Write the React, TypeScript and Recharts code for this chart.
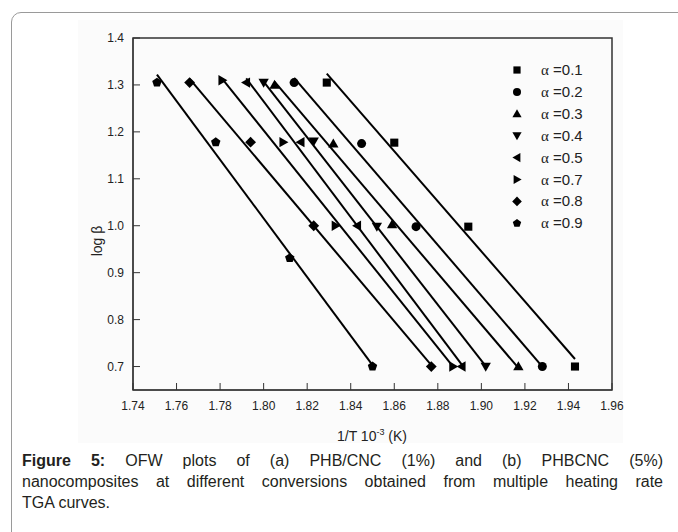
import { ScatterChart, Scatter, XAxis, YAxis, ReferenceLine, ReferenceArea } from 'recharts';

// 1/T (10^-3 K^-1) tick labels and log(beta) tick labels
const X_TICKS = [1.74, 1.76, 1.78, 1.8, 1.82, 1.84, 1.86, 1.88, 1.9, 1.92, 1.94, 1.96];
const Y_TICKS = [0.7, 0.8, 0.9, 1.0, 1.1, 1.2, 1.3, 1.4];

const SERIES_LABELS = ['0.1', '0.2', '0.3', '0.4', '0.5', '0.7', '0.8', '0.9'];
const SERIES_MARKERS = ['square', 'circle', 'up', 'down', 'left', 'right', 'diamond', 'pentagon'];

// measured points, one row per conversion
const INV_T = [
  [1.829, 1.86, 1.894, 1.943],
  [1.814, 1.845, 1.87, 1.928],
  [1.805, 1.832, 1.859, 1.917],
  [1.8, 1.823, 1.852, 1.902],
  [1.792, 1.817, 1.843, 1.891],
  [1.781, 1.809, 1.833, 1.887],
  [1.766, 1.794, 1.823, 1.877],
  [1.751, 1.778, 1.812, 1.85],
];
const LOG_BETA = [
  [1.305, 1.177, 0.998, 0.7],
  [1.305, 1.175, 0.998, 0.7],
  [1.3, 1.175, 1.003, 0.7],
  [1.305, 1.18, 0.998, 0.7],
  [1.305, 1.178, 1.0, 0.7],
  [1.31, 1.178, 1.0, 0.7],
  [1.305, 1.178, 1.0, 0.7],
  [1.305, 1.178, 0.931, 0.7],
];

// fitted lines, start and end
const FIT_START = [
  [1.829, 1.324], [1.814, 1.315], [1.805, 1.307], [1.8, 1.307],
  [1.792, 1.314], [1.781, 1.313], [1.766, 1.313], [1.751, 1.322],
];
const FIT_END = [
  [1.943, 0.716], [1.928, 0.7], [1.917, 0.697], [1.902, 0.701],
  [1.891, 0.704], [1.887, 0.7], [1.877, 0.703], [1.85, 0.703],
];

const SANS = '"Liberation Sans", Arial, sans-serif';
const SERIF = '"Liberation Serif", "Times New Roman", serif';

const Marker = ({ cx, cy, kind, r }: { cx: number; cy: number; kind: string; r: number }) => {
  const poly = (pts: number[][]) => (
    <polygon points={pts.map(p => `${cx + p[0] * r},${cy + p[1] * r}`).join(' ')} fill="#000" />
  );
  switch (kind) {
    case 'square':
      return <rect x={cx - r * 0.9} y={cy - r * 0.9} width={r * 1.8} height={r * 1.8} fill="#000" />;
    case 'circle':
      return <circle cx={cx} cy={cy} r={r} fill="#000" />;
    case 'up':
      return poly([[0, -1.15], [1.15, 0.85], [-1.15, 0.85]]);
    case 'down':
      return poly([[0, 1.15], [1.15, -0.85], [-1.15, -0.85]]);
    case 'left':
      return poly([[-1.15, 0], [0.85, -1.15], [0.85, 1.15]]);
    case 'right':
      return poly([[1.15, 0], [-0.85, -1.15], [-0.85, 1.15]]);
    case 'diamond':
      return poly([[0, -1.2], [1.2, 0], [0, 1.2], [-1.2, 0]]);
    default: {
      const pts = [0, 1, 2, 3, 4].map(i => {
        const a = -Math.PI / 2 + (i * 2 * Math.PI) / 5;
        return [Math.cos(a) * 1.1, Math.sin(a) * 1.1];
      });
      return poly(pts);
    }
  }
};

const App = () => {
  const series = INV_T.map((xs, i) => xs.map((x, j) => ({ x, y: LOG_BETA[i][j] })));

  return (
    <div style={{ position: 'absolute', left: 0, top: 0, width: 678, height: 532, background: '#fff', overflow: 'hidden' }}>
      <div style={{ position: 'absolute', left: 11, top: 12, width: 720, height: 600, border: '1.5px solid #9a9a9a', borderRadius: 10 }} />
      <div style={{ position: 'absolute', left: 78, top: 20, width: 545, height: 423, background: '#fbfbfb' }} />
      <div style={{ position: 'absolute', left: 0, top: 0 }}>
        <ScatterChart width={678} height={450} margin={{ top: 38, right: 66, bottom: 30, left: 93 }}>
          <XAxis
            type="number"
            dataKey="x"
            domain={[1.74, 1.96]}
            ticks={X_TICKS}
            tickFormatter={(v: number) => v.toFixed(2)}
            allowDataOverflow
            height={30}
            tickSize={-7}
            tickMargin={18}
            stroke="#333"
            tick={{ fill: '#222', fontSize: 12, fontFamily: SANS }}
          />
          <YAxis
            type="number"
            dataKey="y"
            domain={[0.65, 1.4]}
            ticks={Y_TICKS}
            tickFormatter={(v: number) => v.toFixed(1)}
            allowDataOverflow
            width={40}
            tickSize={-7}
            tickMargin={16}
            stroke="#333"
            tick={{ fill: '#222', fontSize: 12, fontFamily: SANS }}
          />
          <ReferenceArea x1={1.74} x2={1.96} y1={0.65} y2={1.4} fill="none" stroke="#333" strokeWidth={1.5} />
          {FIT_START.map((s, i) => (
            <ReferenceLine
              key={'fit' + i}
              segment={[{ x: s[0], y: s[1] }, { x: FIT_END[i][0], y: FIT_END[i][1] }]}
              stroke="#000"
              strokeWidth={2}
              ifOverflow="visible"
            />
          ))}
          {series.map((d, i) => (
            <Scatter
              key={SERIES_LABELS[i]}
              name={SERIES_LABELS[i]}
              data={d}
              isAnimationActive={false}
              shape={(p: any) => <Marker cx={p.cx} cy={p.cy} kind={SERIES_MARKERS[i]} r={4.5} />}
            />
          ))}
        </ScatterChart>
      </div>
      <svg width={678} height={450} style={{ position: 'absolute', left: 0, top: 0, pointerEvents: 'none' }}>
        <text x={102} y={241} transform="rotate(-90 102 241)" textAnchor="middle" fontSize={14} fontFamily={SANS} fill="#222">
          log β
        </text>
        <text x={372} y={441} textAnchor="middle" fontSize={14} fontFamily={SANS} fill="#222">
          1/T 10<tspan dy={-6} fontSize={9}>-3</tspan>
          <tspan dy={6}> (K)</tspan>
        </text>
        {SERIES_LABELS.map((lab, i) => {
          const y = 70 + i * 21.9;
          return (
            <g key={lab}>
              <Marker cx={517} cy={y} kind={SERIES_MARKERS[i]} r={4} />
              <text x={541} y={y + 5} fontSize={15} fill="#222">
                <tspan fontFamily={SERIF}>α</tspan>
                <tspan fontFamily={SANS}> =0.{lab.slice(2)}</tspan>
              </text>
            </g>
          );
        })}
      </svg>
      <div style={{ position: 'absolute', left: 22, top: 450, width: 641, fontFamily: SANS, fontSize: 16, lineHeight: '21px', color: '#231f20' }}>
        <div style={{ textAlign: 'justify', textAlignLast: 'justify' }}>
          <b>Figure 5:</b> OFW plots of (a) PHB/CNC (1%) and (b) PHBCNC (5%)
        </div>
        <div style={{ textAlign: 'justify', textAlignLast: 'justify' }}>
          nanocomposites at different conversions obtained from multiple heating rate
        </div>
        <div>TGA curves.</div>
      </div>
    </div>
  );
};

export default App;
